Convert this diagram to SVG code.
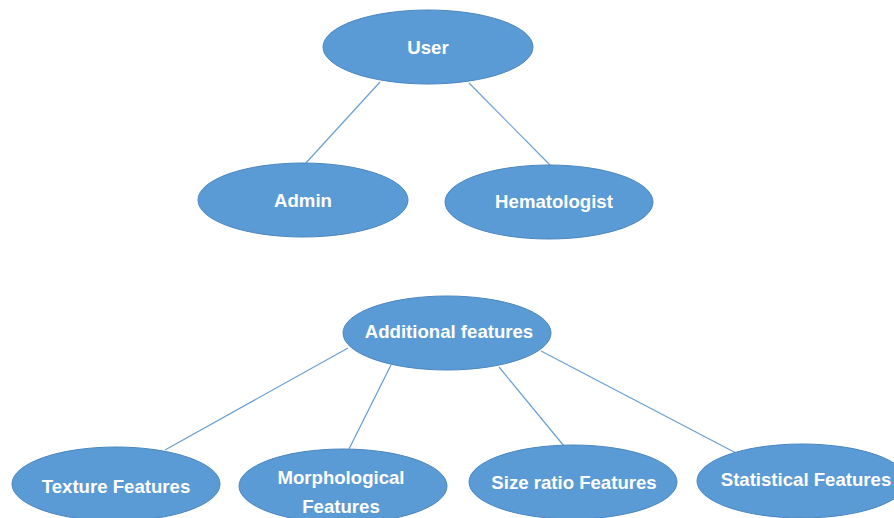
<svg xmlns="http://www.w3.org/2000/svg" width="894" height="518" viewBox="0 0 894 518">
  <style>
    .node ellipse { fill: #5B9BD5; stroke: #4A86BF; stroke-width: 1; }
    .node text { fill: #FFFFFF; font-family: "Liberation Sans", Arial, sans-serif; font-weight: bold; font-size: 18.6px; text-anchor: middle; }
    #connectors line { stroke: #6A9FD3; stroke-width: 1.2; }
  </style>
  <rect width="894" height="518" fill="#FFFFFF"/>

  <g id="connectors">
    <line x1="380" y1="82" x2="305" y2="164"/>
    <line x1="469" y1="83" x2="550" y2="165"/>
    <line x1="348" y1="348" x2="165" y2="450"/>
    <line x1="391" y1="365" x2="349" y2="449"/>
    <line x1="499" y1="367" x2="564" y2="446"/>
    <line x1="541" y1="351" x2="736" y2="453"/>
  </g>

  <g id="user" class="node">
    <ellipse cx="428" cy="47" rx="105" ry="37"/>
    <text x="428" y="54">User</text>
  </g>
  <g id="admin" class="node">
    <ellipse cx="303" cy="200" rx="105" ry="37"/>
    <text x="303" y="207">Admin</text>
  </g>
  <g id="hematologist" class="node">
    <ellipse cx="549" cy="202" rx="104" ry="37"/>
    <text x="554" y="208">Hematologist</text>
  </g>

  <g id="additional-features" class="node">
    <ellipse cx="447" cy="333" rx="104" ry="37"/>
    <text x="449" y="338">Additional features</text>
  </g>
  <g id="texture-features" class="node">
    <ellipse cx="116" cy="484" rx="104" ry="37"/>
    <text x="116" y="493">Texture Features</text>
  </g>
  <g id="morphological-features" class="node">
    <ellipse cx="343" cy="486" rx="104" ry="37"/>
    <text x="341" y="484">Morphological</text>
    <text x="341" y="513">Features</text>
  </g>
  <g id="size-ratio-features" class="node">
    <ellipse cx="573" cy="482" rx="104" ry="37"/>
    <text x="574" y="489">Size ratio Features</text>
  </g>
  <g id="statistical-features" class="node">
    <ellipse cx="802" cy="481" rx="105" ry="37"/>
    <text x="806" y="486">Statistical Features</text>
  </g>
</svg>
